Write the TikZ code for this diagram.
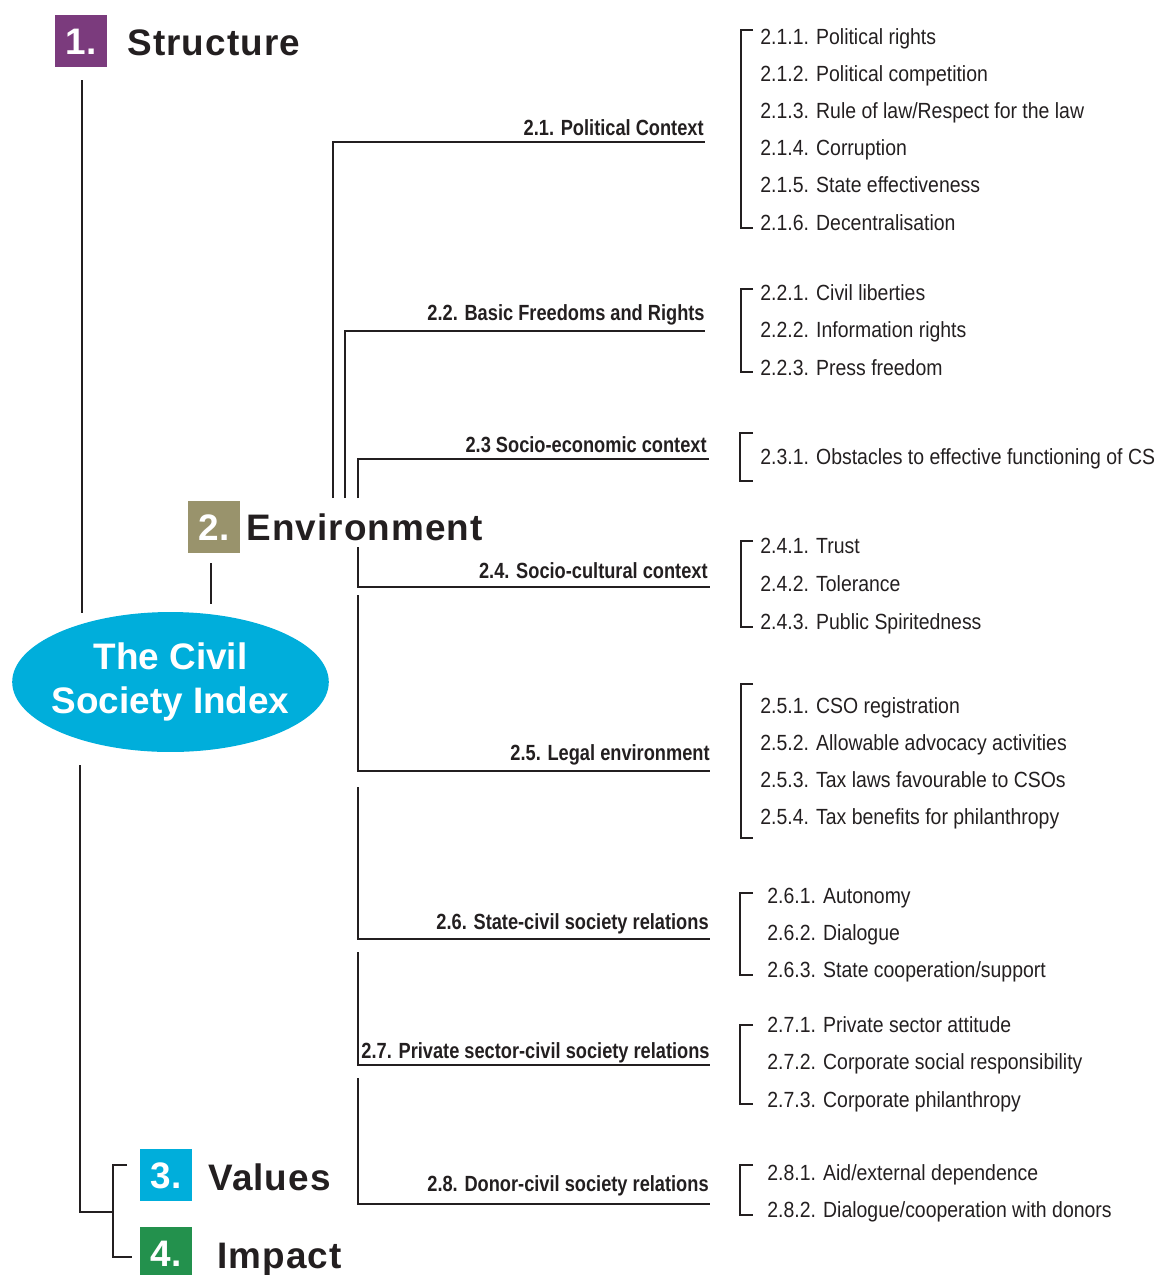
\documentclass[tikz,border=0pt]{standalone}
\usepackage{fontspec}
\setmainfont{Liberation Sans}
\newfontfamily\itemfont{Liberation Sans}[FakeStretch=0.885]
\newfontfamily\branchfont{Liberation Sans}[FakeStretch=0.83]
\newfontfamily\headfont{Liberation Sans}[LetterSpace=3]
\usetikzlibrary{shapes.geometric}
\definecolor{structcol}{RGB}{123,59,125}
\definecolor{envcol}{RGB}{153,147,108}
\definecolor{valcol}{RGB}{0,174,219}
\definecolor{impcol}{RGB}{35,145,77}
\definecolor{csicol}{RGB}{0,174,219}
\definecolor{ink}{RGB}{35,31,32}

\begin{document}
\begin{tikzpicture}[
		x=0.02cm, y=-0.02cm,
		tree/.style={draw=ink, line width=1.4pt},
		numbox/.style={minimum size=1.04cm, inner sep=0pt, text=white,
			text height=15pt, text depth=0pt,
			font=\headfont\bfseries\fontsize{21}{25}\selectfont},
		heading/.style={anchor=base west, inner sep=0pt, text=ink,
			font=\headfont\bfseries\fontsize{21}{25}\selectfont},
		branch/.style={anchor=base east, inner sep=0pt, text=ink,
			font=\branchfont\bfseries\fontsize{12.5}{15}\selectfont},
		item/.style={anchor=base west, inner sep=0pt, text=ink,
			font=\itemfont\fontsize{12.5}{15}\selectfont},
	]
	\useasboundingbox (0,0) rectangle (1160,1275);

	\node[numbox, fill=structcol] (n1) at (81,41) {1.};
	\node[heading] (structure) at (127,55) {Structure};
	\node[numbox, fill=envcol] (n2) at (214,527) {2.};
	\node[heading] (environment) at (246,540) {Environment};
	\node[numbox, fill=valcol] (n3) at (166,1175) {3.};
	\node[heading] (values) at (208,1190) {Values};
	\node[numbox, fill=impcol] (n4) at (166,1253) {4.};
	\node[heading] (impact) at (217,1268) {Impact};
	\node[ellipse, fill=csicol, minimum height=2.8cm,
		inner xsep=-0.14cm, inner ysep=0pt, text=white, align=center,
		font=\bfseries\fontsize{21}{25}\selectfont] (csi) at (170.5,682) {The Civil\\Society Index};

	\coordinate (s1) at (82,80);
	\coordinate (s2) at (82,613);
	\coordinate (s3) at (80,765);
	\coordinate (s4) at (113,1212);
	\draw[tree] (s1) -- (s2);
	\draw[tree] (s3) |- (s4);
	\draw[tree] (127,1165) -- (113,1165) -- (113,1257) -- (132,1257);
	\draw[tree] (211,563) -- (211,604);

	\coordinate (b21) at (705,142);
	\coordinate (b22) at (705,331);
	\coordinate (b23) at (709,459);
	\coordinate (b24) at (710,587);
	\coordinate (b25) at (710,771);
	\coordinate (b26) at (710,939);
	\coordinate (b27) at (710,1065);
	\coordinate (b28) at (710,1204);
	\draw[tree] (333,498) |- (b21);
	\draw[tree] (345,498) |- (b22);
	\draw[tree] (358,498) |- (b23);
	\draw[tree] (358,547) |- (b24);
	\draw[tree] (358,595) |- (b25);
	\draw[tree] (358,787) |- (b26);
	\draw[tree] (358,952) |- (b27);
	\draw[tree] (358,1078) |- (b28);

	\node[branch] (l21) at (704,135) {2.1. Political Context};
	\node[branch] (l22) at (705,320) {2.2. Basic Freedoms and Rights};
	\node[branch] (l23) at (707,452) {2.3 Socio-economic context};
	\node[branch] (l24) at (708,578) {2.4. Socio-cultural context};
	\node[branch] (l25) at (710,760) {2.5. Legal environment};
	\node[branch] (l26) at (709,929) {2.6. State-civil society relations};
	\node[branch] (l27) at (710,1058) {2.7. Private sector-civil society relations};
	\node[branch] (l28) at (709,1191) {2.8. Donor-civil society relations};

	\draw[tree] (753,30) -- (741,30) -- (741,228) -- (753,228);
	\draw[tree] (753,289) -- (741,289) -- (741,372) -- (753,372);
	\draw[tree] (753,433) -- (740,433) -- (740,481) -- (753,481);
	\draw[tree] (753,541) -- (741,541) -- (741,627) -- (753,627);
	\draw[tree] (753,684) -- (741,684) -- (741,838) -- (753,838);
	\draw[tree] (753,893) -- (740,893) -- (740,975) -- (753,975);
	\draw[tree] (753,1025) -- (740,1025) -- (740,1104) -- (753,1104);
	\draw[tree] (753,1165) -- (740,1165) -- (740,1215) -- (753,1215);

	\foreach \t [count=\k] in {Political rights, Political competition,
		Rule of law/Respect for the law, Corruption, State effectiveness,
		Decentralisation}
		\node[item] (i21-\k) at (760,{44+37.2*(\k-1)}) {2.1.\k. \t};
	\foreach \t [count=\k] in {Civil liberties, Information rights, Press freedom}
		\node[item] (i22-\k) at (760,{300+37.5*(\k-1)}) {2.2.\k. \t};
	\node[item] (i23-1) at (760,464) {2.3.1. Obstacles to effective functioning of CS};
	\foreach \t [count=\k] in {Trust, Tolerance, Public Spiritedness}
		\node[item] (i24-\k) at (760,{553+38*(\k-1)}) {2.4.\k. \t};
	\foreach \t [count=\k] in {CSO registration, Allowable advocacy activities,
		Tax laws favourable to CSOs, Tax benefits for philanthropy}
		\node[item] (i25-\k) at (760,{713+37.3*(\k-1)}) {2.5.\k. \t};
	\foreach \t [count=\k] in {Autonomy, Dialogue, State cooperation/support}
		\node[item] (i26-\k) at (767,{903+37*(\k-1)}) {2.6.\k. \t};
	\foreach \t [count=\k] in {Private sector attitude,
		Corporate social responsibility, Corporate philanthropy}
		\node[item] (i27-\k) at (767,{1032+37.5*(\k-1)}) {2.7.\k. \t};
	\foreach \t [count=\k] in {Aid/external dependence,
		Dialogue/cooperation with donors}
		\node[item] (i28-\k) at (767,{1180+37*(\k-1)}) {2.8.\k. \t};
\end{tikzpicture}
\end{document}
